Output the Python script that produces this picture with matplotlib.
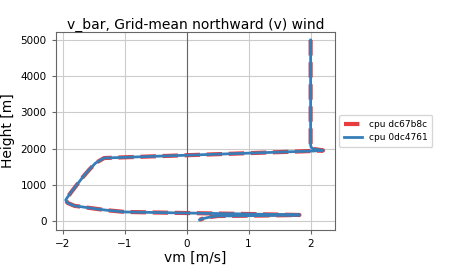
import matplotlib
matplotlib.use("Agg")
import matplotlib.pyplot as plt

# Profile heights [m] (descending) and v-wind [m/s]
height = [5000, 4500, 4000, 3500, 3000, 2500, 2100, 2030, 1990, 1965, 1950, 1935,
          1900, 1850, 1800, 1760, 1740, 1600, 1400, 1200, 1000, 800, 660, 580,
          500, 420, 360, 300, 250, 220, 193, 166, 150, 138, 110, 80, 55, 30]
v_dc67b8c = [2.0, 2.0, 2.0, 2.0, 2.0, 2.0, 2.0, 2.01, 2.05, 2.15, 2.2, 2.05,
             1.43, 0.56, -0.31, -1.0, -1.33, -1.47, -1.58, -1.68, -1.77, -1.86, -1.92, -1.95,
             -1.92, -1.81, -1.56, -1.3, -1.0, 0.0, 1.0, 1.82, 1.2, 0.5, 0.38, 0.3, 0.24, 0.21]
v_0dc4761 = [2.0, 2.0, 2.0, 2.0, 2.0, 2.0, 2.0, 2.01, 2.05, 2.15, 2.2, 2.05,
             1.43, 0.56, -0.31, -1.0, -1.33, -1.47, -1.58, -1.68, -1.77, -1.86, -1.92, -1.95,
             -1.92, -1.81, -1.56, -1.3, -1.0, 0.0, 1.0, 1.82, 1.2, 0.5, 0.38, 0.3, 0.24, 0.21]
labels = ["cpu dc67b8c", "cpu 0dc4761"]

fig = plt.figure(figsize=(4.5, 2.7), dpi=100)
ax = fig.add_axes([0.124, 0.148, 0.62, 0.733])
ax.grid(True, color="#cccccc", lw=0.8)
ax.set_axisbelow(True)
ax.axvline(0, color="#666666", lw=0.8)
ax.plot(v_dc67b8c, height, color="#e41a1c", lw=3, ls="--", alpha=0.85, label=labels[0])
ax.plot(v_0dc4761, height, color="#377eb8", lw=2, label=labels[1])
ax.set_xlim(-2.11, 2.39)
ax.set_ylim(-250, 5220)
ax.set_xticks([-2, -1, 0, 1, 2])
ax.set_yticks([0, 1000, 2000, 3000, 4000, 5000])
ax.tick_params(labelsize=7.5, length=3, color="#666666")
for s in ax.spines.values():
    s.set_color("#666666")
ax.set_xlabel("vm [m/s]", fontsize=10, labelpad=1)
ax.set_ylabel("Height [m]", fontsize=10)
ax.set_title("v_bar, Grid-mean northward (v) wind", fontsize=10, pad=2)
ax.legend(loc="center left", bbox_to_anchor=(1.0, 0.5), fontsize=6.5,
          handlelength=2.0, borderpad=0.5)
fig.savefig("out.png", dpi=100)
